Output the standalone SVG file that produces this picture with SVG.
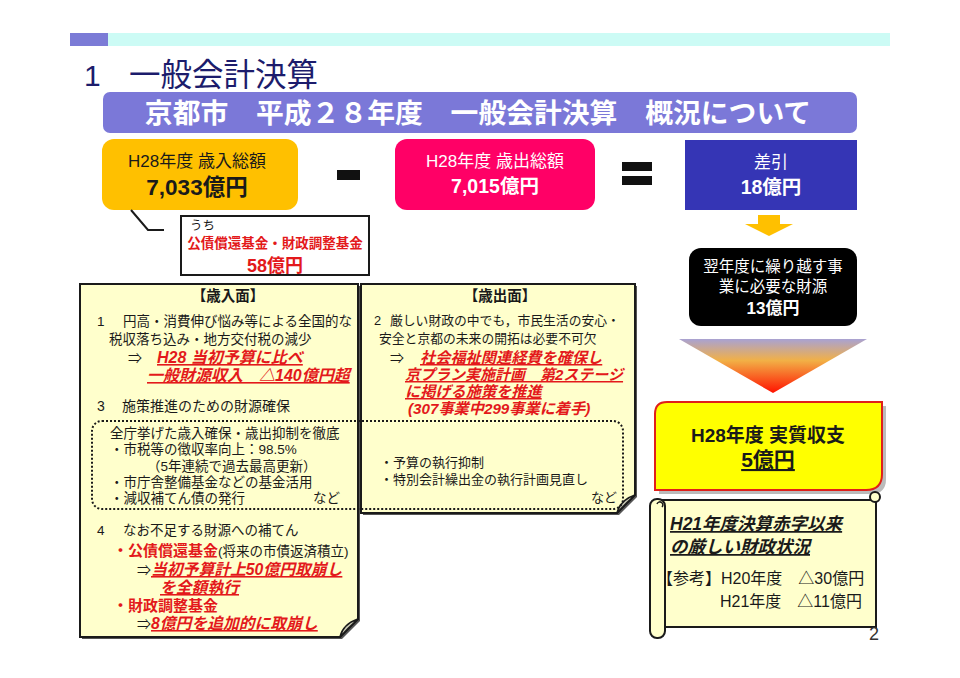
<svg xmlns="http://www.w3.org/2000/svg" width="960" height="678" viewBox="0 0 960 678">
<style>
text{font-family:"Liberation Sans","Noto Sans CJK JP",sans-serif;fill:#1a1a1a}
.b{font-weight:bold}
.w{fill:#fff}
.c{text-anchor:middle}
.red{fill:#e3191b;font-weight:bold}
.ri{fill:#e3191b;font-weight:bold;font-style:italic}
.u{text-decoration:underline}
.note{fill:#ffffcc;stroke:#1a1a1a;stroke-width:2}
.shadow{fill:#555}
.fold{fill:#c9c9b5;stroke:#1a1a1a;stroke-width:1.5;stroke-linejoin:round}
.line{fill:none;stroke:#1a1a1a;stroke-width:2}
</style>
<defs>
<linearGradient id="tri" x1="0" y1="0" x2="0" y2="1">
<stop offset="0" stop-color="#a9a2d2"/>
<stop offset="0.4" stop-color="#f2b046"/>
<stop offset="1" stop-color="#ff1200"/>
</linearGradient>
</defs>
<rect width="960" height="678" fill="#fff"/>

<g id="header">
<rect x="70" y="33" width="38" height="13" fill="#7b7bd6"/>
<rect x="108" y="33" width="782" height="13" fill="#ccfbf5"/>
<text x="84" y="86" font-size="30" style="fill:#1c1c6c">1</text>
<text x="129" y="86" font-size="31.5" style="fill:#1c1c6c">一般会計決算</text>
</g>

<g id="banner">
<rect x="103" y="92" width="754" height="41" rx="7" fill="#7b78d8"/>
<text x="478" y="123" font-size="27.8" class="c w b">京都市　平成２８年度　一般会計決算　概況について</text>
</g>

<g id="revenue">
<rect x="102" y="139" width="196" height="71" rx="12" fill="#ffc000"/>
<text x="197" y="167" font-size="17" class="c">H28年度 歳入総額</text>
<text x="197" y="195" font-size="22.5" class="c b">7,033億円</text>
</g>

<g id="minus">
<rect x="337" y="170" width="23" height="10" fill="#111"/>
</g>

<g id="expenditure">
<rect x="395" y="139" width="200" height="71" rx="12" fill="#ff0066"/>
<text x="495" y="167" font-size="17" class="c w">H28年度 歳出総額</text>
<text x="495" y="193" font-size="19.5" class="c w b">7,015億円</text>
</g>

<g id="equals">
<rect x="622" y="162" width="30" height="9" fill="#111"/>
<rect x="622" y="176" width="30" height="9" fill="#111"/>
</g>

<g id="difference">
<rect x="685" y="140" width="172" height="70" fill="#3535b5"/>
<text x="771" y="168" font-size="17" class="c w">差引</text>
<text x="771" y="194" font-size="19.5" class="c w b">18億円</text>
</g>

<g id="callout">
<rect x="181" y="216" width="188" height="59" fill="#fff" stroke="#1a1a1a" stroke-width="2"/>
<text x="190" y="230" font-size="12.5">うち</text>
<text x="275" y="248" font-size="13.5" class="c red">公債償還基金・財政調整基金</text>
<text x="275" y="272" font-size="18" class="c red">58億円</text>
</g>

<g id="carryover">
<rect x="689" y="248" width="168" height="78" rx="12" fill="#000"/>
<text x="773" y="272" font-size="15.5" class="c w">翌年度に繰り越す事</text>
<text x="773" y="292" font-size="15.5" class="c w">業に必要な財源</text>
<text x="773" y="314" font-size="17" class="c w b">13億円</text>
</g>

<g id="real-balance">
<path d="M659,406 H886 V479 Q886,494 871,494 H659 Z" fill="#bbb"/>
<path d="M667,402 H882 V474 Q882,490 866,490 H655 V414 Q655,402 667,402 Z" fill="#ffff00" stroke="#e0201a" stroke-width="2"/>
<text x="768" y="442" font-size="19" class="c b">H28年度 実質収支</text>
<text x="768" y="467" font-size="21" class="c b u">5億円</text>
</g>

<g id="scroll">
<path d="M661,500 H876 V627 H661 Z" class="note"/>
<circle cx="875" cy="497" r="5" fill="#ffffcc" stroke="#1a1a1a" stroke-width="2"/>
<rect x="650" y="499" width="15" height="139" rx="7" class="note"/>
<path d="M657,504 a3,3 0 1 1 5,3" fill="none" stroke="#1a1a1a" stroke-width="1.5"/>
<text x="670" y="530" font-size="17.5" class="b u" font-style="italic">H21年度決算赤字以来</text>
<text x="670" y="553" font-size="17.5" class="b u" font-style="italic">の厳しい財政状況</text>
<text x="657" y="584" font-size="16">【参考】H20年度　△30億円</text>
<text x="720" y="607" font-size="16">H21年度　△11億円</text>
</g>

<g id="income-side">
<path d="M82,286 H360 V621 L342,639 H82 Z" class="shadow"/>
<path d="M80,284 H358 V619 L340,637 H80 Z" class="note"/>
<path d="M340,637 Q343,624 358,619 Q348,628 340,637 Z" class="fold"/>
<text x="228" y="301" font-size="14.5" class="c b">【歳入面】</text>
<text x="97" y="326" font-size="13.5">1</text>
<text x="123" y="326" font-size="13.5">円高・消費伸び悩み等による全国的な</text>
<text x="109" y="344" font-size="13.5">税収落ち込み・地方交付税の減少</text>
<text x="128" y="363" font-size="14">⇒</text>
<text x="157" y="363" font-size="16" class="ri u">H28 当初予算に比べ</text>
<text x="147" y="381" font-size="16" class="ri u">一般財源収入　△140億円超</text>
<text x="97" y="411" font-size="14">3</text>
<text x="122" y="411" font-size="14">施策推進のための財源確保</text>
<text x="110" y="438" font-size="13.5">全庁挙げた歳入確保・歳出抑制を徹底</text>
<text x="110" y="454" font-size="13.5">・市税等の徴収率向上：98.5%</text>
<text x="147" y="471" font-size="13.5">（5年連続で過去最高更新）</text>
<text x="110" y="487" font-size="13.5">・市庁舎整備基金などの基金活用</text>
<text x="110" y="503" font-size="13.5">・減収補てん債の発行</text>
<text x="313" y="503" font-size="13.5">など</text>
<text x="97" y="535" font-size="13.5">4</text>
<text x="123" y="535" font-size="13.5">なお不足する財源への補てん</text>
<text x="113" y="556" font-size="15"><tspan class="red">・公債償還基金</tspan><tspan font-size="13.5">(将来の市債返済積立)</tspan></text>
<text x="137" y="575" font-size="14">⇒</text>
<text x="151" y="575" font-size="15.8" class="ri u">当初予算計上50億円取崩し</text>
<text x="160" y="593" font-size="15.8" class="ri u">を全額執行</text>
<text x="113" y="611" font-size="15" class="red">・財政調整基金</text>
<text x="137" y="629" font-size="14">⇒</text>
<text x="151" y="629" font-size="15.8" class="ri u">8億円を追加的に取崩し</text>
</g>

<g id="expenditure-side">
<path d="M363,286 H637 V497 L619,515 H363 Z" class="shadow"/>
<path d="M361,284 H635 V495 L617,513 H361 Z" class="note"/>
<path d="M617,513 Q620,500 635,495 Q625,504 617,513 Z" class="fold"/>
<text x="500" y="301" font-size="14.5" class="c b">【歳出面】</text>
<text x="374" y="325" font-size="12.8">2</text>
<text x="390" y="325" font-size="12.8">厳しい財政の中でも，市民生活の安心・</text>
<text x="379" y="343" font-size="12.8">安全と京都の未来の開拓は必要不可欠</text>
<text x="390" y="363" font-size="14">⇒</text>
<text x="420" y="363" font-size="15.2" class="ri u">社会福祉関連経費を確保し</text>
<text x="405" y="380" font-size="15" class="ri u">京プラン実施計画　第2ステージ</text>
<text x="405" y="397" font-size="15.2" class="ri u">に掲げる施策を推進</text>
<text x="408" y="414" font-size="15.2" class="ri">(307事業中299事業に着手)</text>
<text x="380" y="467" font-size="13">・予算の執行抑制</text>
<text x="380" y="484" font-size="13">・特別会計繰出金の執行計画見直し</text>
<text x="591" y="502" font-size="13">など</text>
</g>

<g id="measures-frame">
<rect x="92" y="421" width="531" height="88" rx="10" fill="none" stroke="#1a1a1a" stroke-width="2" stroke-dasharray="2,2"/>
</g>

<g id="connectors">
<polyline points="131,210 148,230 164,230" class="line"/>
<path d="M758,215 H780 V224 H793 L769,236 L745,224 H758 Z" fill="#ffc000"/>
<path d="M679,339 H867 L773,393 Z" fill="url(#tri)"/>
</g>

<text x="869" y="640" font-size="18" style="fill:#333">2</text>
</svg>
